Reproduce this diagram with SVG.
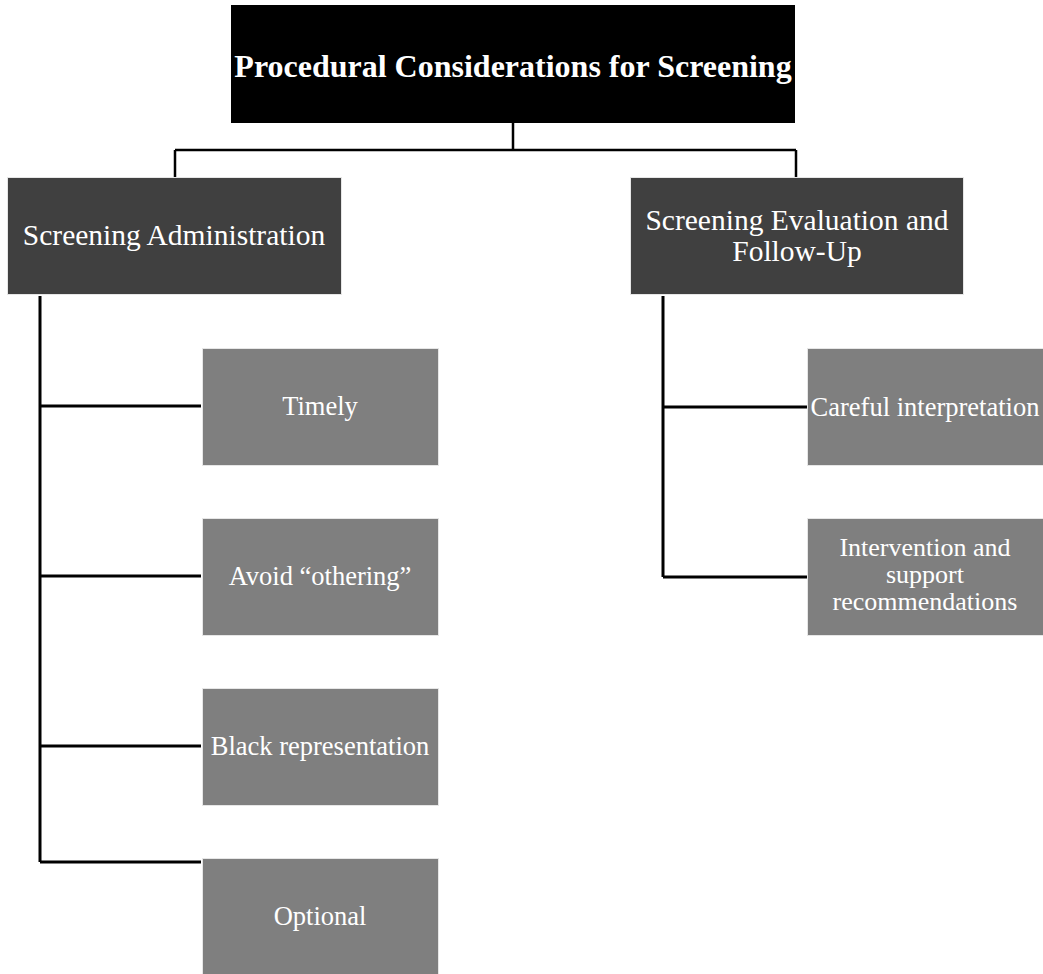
<svg xmlns="http://www.w3.org/2000/svg" width="1043" height="974" viewBox="0 0 1043 974">
  <style>
    .root { fill: #000000; }
    .mid { fill: #404040; stroke: #e6e6e6; stroke-width: 1; }
    .leaf { fill: #7f7f7f; stroke: #e6e6e6; stroke-width: 1; }
    .t { font-family: "Liberation Serif", "Times New Roman", serif; fill: #ffffff; text-anchor: middle; }
    .t-root { font-size: 32px; font-weight: bold; }
    .t-mid { font-size: 29.5px; }
    .t-leaf { font-size: 26.5px; }
    .t-tight { font-size: 26px; }
    .wire { fill: none; stroke: #000000; stroke-width: 3; }
    .wire-top { fill: none; stroke: #000000; stroke-width: 2.5; }
  </style>
  <rect width="1043" height="974" fill="#ffffff"/>

  <g id="connectors">
    <path class="wire-top" d="M513,123 V150 M175,150 H796 M175,150 V177 M796,150 V177"/>
    <path class="wire" d="M40,296 V862 M40,406 H201 M40,576 H201 M40,746 H201 M40,862 H201"/>
    <path class="wire" d="M663,296 V577 M663,407 H807 M663,577 H807"/>
  </g>

  <g id="root">
    <rect class="root" x="231" y="5" width="564" height="118"/>
    <text class="t t-root" x="513" y="77">Procedural Considerations for Screening</text>
  </g>

  <g id="screening-administration">
    <rect class="mid" x="7.5" y="177.5" width="334" height="117"/>
    <text class="t t-mid" x="174" y="245">Screening Administration</text>
  </g>

  <g id="screening-evaluation">
    <rect class="mid" x="630.5" y="177.5" width="333" height="117"/>
    <text class="t t-mid" x="797" y="230">Screening Evaluation and</text>
    <text class="t t-mid" x="797" y="261">Follow-Up</text>
  </g>

  <g id="timely">
    <rect class="leaf" x="202.5" y="348.5" width="236" height="117"/>
    <text class="t t-leaf" x="320" y="415">Timely</text>
  </g>

  <g id="avoid-othering">
    <rect class="leaf" x="202.5" y="518.5" width="236" height="117"/>
    <text class="t t-leaf" x="320" y="585">Avoid “othering”</text>
  </g>

  <g id="black-representation">
    <rect class="leaf" x="202.5" y="688.5" width="236" height="117"/>
    <text class="t t-leaf" x="320" y="755">Black representation</text>
  </g>

  <g id="optional">
    <rect class="leaf" x="202.5" y="858.5" width="236" height="117"/>
    <text class="t t-leaf" x="320" y="925">Optional</text>
  </g>

  <g id="careful-interpretation">
    <rect class="leaf" x="807.5" y="348.5" width="237" height="117"/>
    <text class="t t-leaf" x="925" y="416">Careful interpretation</text>
  </g>

  <g id="intervention-support">
    <rect class="leaf" x="807.5" y="518.5" width="237" height="117"/>
    <text class="t t-tight" x="925" y="556">Intervention and</text>
    <text class="t t-tight" x="925" y="583">support</text>
    <text class="t t-tight" x="925" y="610">recommendations</text>
  </g>
</svg>
